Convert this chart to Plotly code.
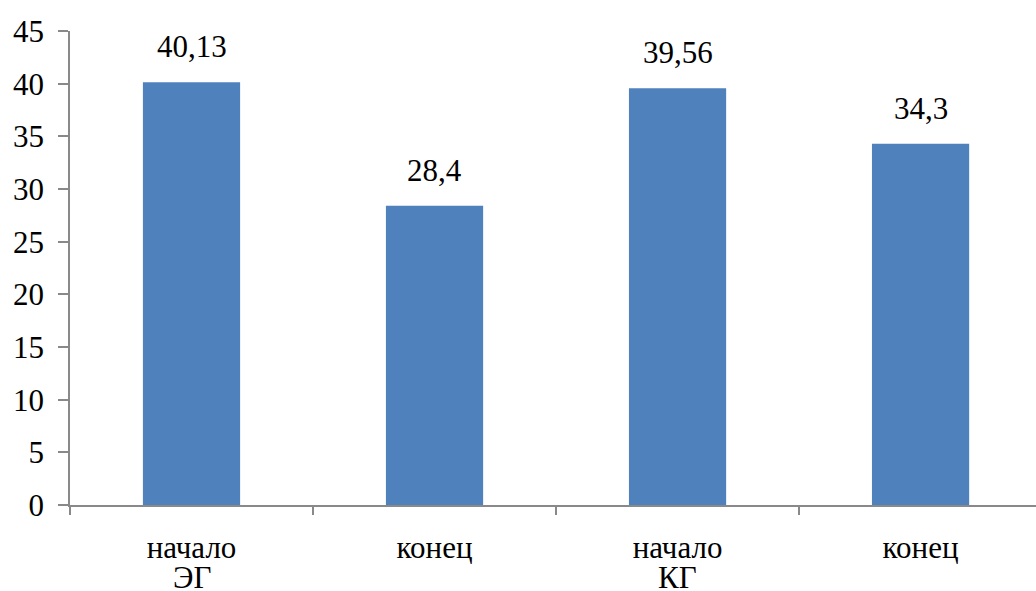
import plotly.graph_objects as go

# Stage (first line) and group (second line) of each category, and measured values
stages = ["начало", "конец", "начало", "конец"]
groups = ["ЭГ", "", "КГ", ""]
values = [40.13, 28.4, 39.56, 34.3]
y_ticks = [0, 5, 10, 15, 20, 25, 30, 35, 40, 45]

BAR_COLOR = "#4F81BD"
AXIS_COLOR = "#898989"
FONT = "Times New Roman"
FONT_SIZE = 31

positions = list(range(len(values)))
boundaries = [p - 0.5 for p in positions]

fig = go.Figure(
    go.Bar(
        x=positions,
        y=values,
        width=0.4,
        marker=dict(color=BAR_COLOR, line=dict(width=0)),
        hovertext=[f"{s} {g}".strip() for s, g in zip(stages, groups)],
        hoverinfo="text+y",
    )
)

# Value labels above each bar, with a comma decimal separator
for pos, val in zip(positions, values):
    fig.add_annotation(
        x=pos,
        y=val,
        text=f"{val:g}".replace(".", ","),
        showarrow=False,
        yanchor="bottom",
        yshift=16,
        font=dict(family=FONT, size=FONT_SIZE, color="black"),
    )

# Group names as a tighter second line under the stage labels
for pos, grp in zip(positions, groups):
    if grp:
        fig.add_annotation(
            x=pos,
            y=0,
            yref="paper",
            text=grp,
            showarrow=False,
            yanchor="middle",
            valign="middle",
            height=26,
            yshift=-72,
            font=dict(family=FONT, size=FONT_SIZE, color="black"),
        )

fig.update_layout(
    width=1036,
    height=591,
    margin=dict(l=70, r=0, t=31, b=86, autoexpand=False),
    paper_bgcolor="white",
    plot_bgcolor="white",
    showlegend=False,
    xaxis=dict(
        range=[-0.5, 3.475],
        automargin=False,
        showline=True,
        linecolor=AXIS_COLOR,
        linewidth=1.5,
        tickvals=positions,
        ticktext=stages,
        ticks="",
        minor=dict(
            tickvals=boundaries,
            ticks="outside",
            ticklen=8,
            tickcolor=AXIS_COLOR,
            tickwidth=1.5,
            showgrid=False,
        ),
        showgrid=False,
        zeroline=False,
        ticklabelstandoff=14,
        tickfont=dict(family=FONT, size=FONT_SIZE, color="black"),
    ),
    yaxis=dict(
        range=[0, 45],
        tickvals=y_ticks,
        automargin=False,
        showline=True,
        linecolor=AXIS_COLOR,
        linewidth=1.5,
        ticks="outside",
        ticklen=10,
        tickcolor=AXIS_COLOR,
        tickwidth=1.5,
        showgrid=False,
        zeroline=False,
        ticklabelstandoff=8,
        tickfont=dict(family=FONT, size=FONT_SIZE, color="black"),
    ),
)

fig.write_html("out.html")
